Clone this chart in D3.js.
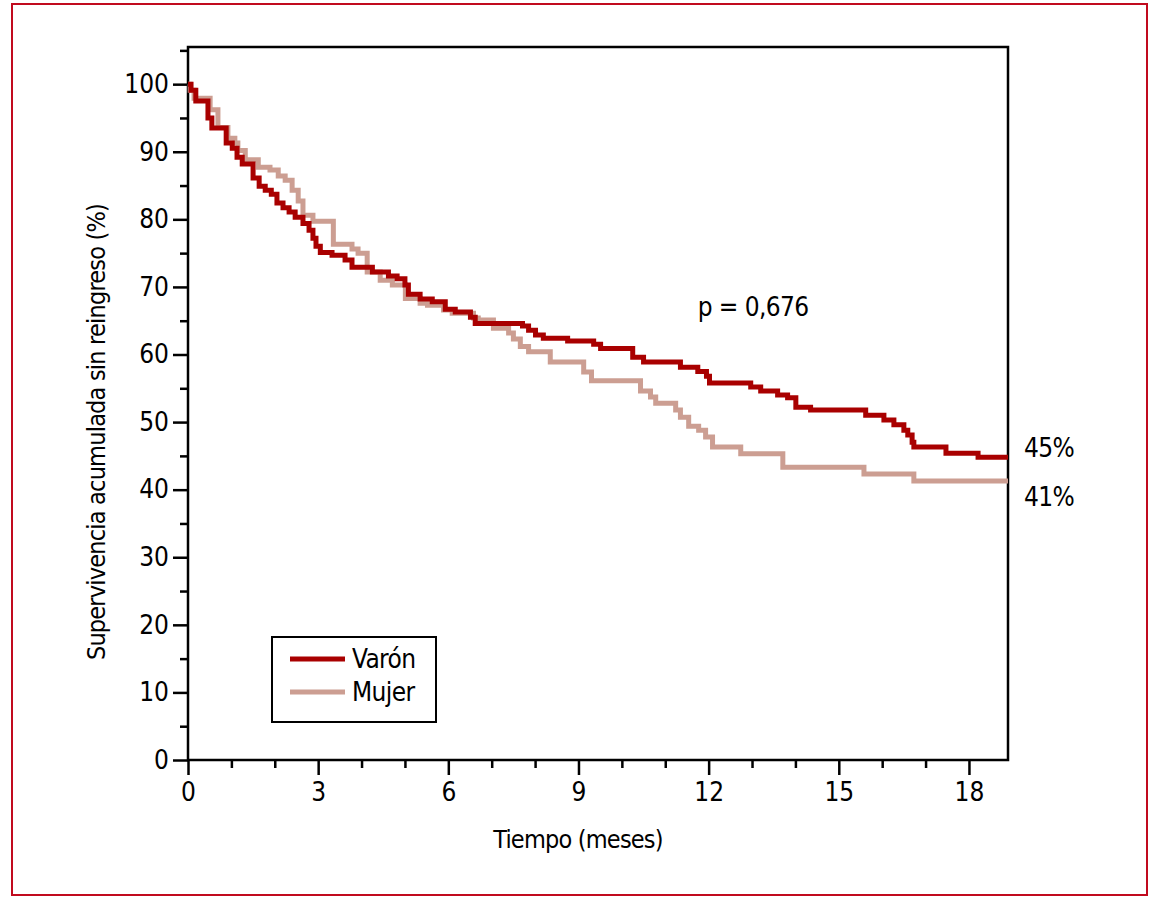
<!DOCTYPE html>
<html>
<head>
<meta charset="utf-8">
<script src="https://cdn.jsdelivr.net/npm/d3@7"></script>
<style>
  body { margin: 0; background: #fff; }
  svg text { font-family: "Liberation Sans Narrow", "DejaVu Sans Condensed", "Arial Narrow", sans-serif; fill: #000; }
  .axis path, .axis line { stroke: #000; stroke-width: 2.5px; }
  .axis text { font-size: 26px; }
  .title { font-size: 25px; letter-spacing: -0.8px; }
  .label { font-size: 26px; letter-spacing: -0.6px; }
</style>
</head>
<body>
<div id="chart"></div>
<script>
// Kaplan-Meier step points (time in months, survival %)
const varonT = [0, 0.07, 0.18, 0.46, 0.55, 0.88, 1.02, 1.13, 1.25, 1.50, 1.64, 1.78, 1.92, 2.05, 2.19, 2.33, 2.47, 2.65, 2.79, 2.88, 2.95, 3.05, 3.32, 3.62, 3.78, 4.25, 4.62, 4.82, 5.00, 5.08, 5.35, 5.63, 5.93, 6.16, 6.51, 6.62, 7.71, 7.85, 8.01, 8.19, 8.75, 9.35, 9.51, 10.25, 10.50, 11.35, 11.75, 11.95, 12.02, 12.97, 13.20, 13.59, 13.82, 14.01, 14.35, 15.62, 16.04, 16.27, 16.50, 16.59, 16.69, 16.73, 17.47, 18.21];
const varonS = [100, 99.1, 97.5, 95.0, 93.5, 91.3, 90.5, 89.2, 88.2, 86.1, 84.9, 84.3, 83.7, 82.4, 81.7, 81.1, 80.3, 79.4, 78.4, 77.2, 76.0, 75.1, 74.7, 74.0, 72.9, 72.2, 71.6, 71.2, 70.3, 68.9, 68.2, 67.8, 66.7, 66.3, 65.5, 64.6, 64.2, 63.6, 62.9, 62.4, 62.0, 61.5, 60.9, 59.6, 58.9, 58.1, 57.5, 56.8, 55.8, 55.2, 54.6, 54.0, 53.6, 52.2, 51.8, 51.0, 50.3, 49.6, 48.8, 48.1, 47.0, 46.3, 45.4, 44.8];

const mujerT = [0, 0.05, 0.14, 0.51, 0.69, 0.92, 1.08, 1.15, 1.32, 1.62, 1.89, 2.08, 2.24, 2.40, 2.54, 2.65, 2.88, 3.35, 3.78, 3.92, 4.13, 4.43, 4.71, 5.01, 5.35, 5.52, 5.89, 6.09, 6.58, 6.69, 7.04, 7.39, 7.50, 7.66, 7.85, 8.35, 9.12, 9.30, 10.43, 10.66, 10.78, 11.24, 11.35, 11.54, 11.77, 11.93, 12.09, 12.74, 13.71, 15.58, 16.73];
const mujerS = [100, 99.1, 97.9, 96.2, 93.6, 92.0, 91.3, 90.2, 88.8, 87.7, 87.3, 86.4, 85.8, 84.3, 82.7, 80.6, 79.7, 76.3, 75.6, 75.0, 72.2, 71.0, 70.3, 68.3, 67.6, 67.3, 66.6, 66.1, 65.4, 65.1, 63.9, 63.2, 62.3, 61.2, 60.4, 58.9, 57.4, 56.1, 54.6, 53.7, 52.8, 51.8, 50.7, 49.4, 48.8, 47.8, 46.3, 45.3, 43.3, 42.3, 41.3];

const followUpEnd = 18.9;
const seriesNames = ["Varón", "Mujer"];
const endLabels = ["45%", "41%"];
const pValue = "p = 0,676";
const xTicksMajor = [0, 3, 6, 9, 12, 15, 18];
const yTicksMajor = [0, 10, 20, 30, 40, 50, 60, 70, 80, 90, 100];

const colors = ["#a90000", "#cc9e92"];

const width = 1159, height = 899;
const margin = {top: 47, right: 151, bottom: 139, left: 188};
const innerW = width - margin.left - margin.right,
    innerH = height - margin.top - margin.bottom;

const x = d3.scaleLinear().domain([0, followUpEnd]).range([0, innerW]);
const y = d3.scaleLinear().domain([0, 105.5]).range([innerH, 0]);

const svg = d3.select("#chart").append("svg")
    .attr("width", width)
    .attr("height", height);

// outer red frame
svg.append("rect")
    .attr("x", 12).attr("y", 4)
    .attr("width", 1135).attr("height", 891)
    .attr("fill", "none")
    .attr("stroke", "#c10a1e")
    .attr("stroke-width", 2);

const g = svg.append("g")
    .attr("transform", `translate(${margin.left},${margin.top})`);

// plot frame
g.append("rect")
    .attr("width", innerW).attr("height", innerH)
    .attr("fill", "none").attr("stroke", "#000").attr("stroke-width", 2.5);

// minor ticks
g.append("g").attr("class", "axis")
    .call(d3.axisLeft(y).tickValues(d3.range(5, 106, 10)).tickSize(8).tickFormat(""))
    .call(s => s.select(".domain").remove());
g.append("g").attr("class", "axis")
    .attr("transform", `translate(0,${innerH})`)
    .call(d3.axisBottom(x).tickValues(d3.range(1, 19).filter(d => d % 3)).tickSize(8).tickFormat(""))
    .call(s => s.select(".domain").remove());

// major ticks
g.append("g").attr("class", "axis")
    .call(d3.axisLeft(y).tickValues(yTicksMajor).tickSize(15).tickPadding(4))
    .call(s => s.select(".domain").remove());
g.append("g").attr("class", "axis")
    .attr("transform", `translate(0,${innerH})`)
    .call(d3.axisBottom(x).tickValues(xTicksMajor).tickSize(15).tickPadding(8))
    .call(s => s.select(".domain").remove());

// axis titles
g.append("text")
    .attr("class", "title")
    .attr("x", 578 - margin.left).attr("y", innerH + 88)
    .attr("text-anchor", "middle")
    .text("Tiempo (meses)");
g.append("text")
    .attr("class", "title")
    .attr("transform", `translate(-83,${432 - margin.top}) rotate(-90)`)
    .attr("text-anchor", "middle")
    .text("Supervivencia acumulada sin reingreso (%)");

// survival curves
const line = d3.line()
    .x(d => x(d[0]))
    .y(d => y(d[1]))
    .curve(d3.curveStepAfter);

const series = [
    varonT.map((t, i) => [t, varonS[i]]),
    mujerT.map((t, i) => [t, mujerS[i]])
];
series.forEach(s => s.push([followUpEnd, s[s.length - 1][1]]));

// draw Mujer first so Varón sits on top
[1, 0].forEach(i => {
    g.append("path")
        .datum(series[i])
        .attr("fill", "none")
        .attr("stroke", colors[i])
        .attr("stroke-width", 5)
        .attr("d", line);
});

// end labels
[45, 41].forEach((v, i) => {
    g.append("text")
        .attr("class", "label")
        .attr("x", innerW + 16)
        .attr("y", y(v) + (i ? 14 : -8))
        .attr("dy", "0.35em")
        .text(endLabels[i]);
});

// p value
g.append("text")
    .attr("class", "label")
    .attr("x", x(11.75)).attr("y", y(67.1))
    .attr("dy", "0.35em")
    .text(pValue);

// legend
const legend = g.append("g").attr("transform", `translate(${272 - margin.left},${637 - margin.top})`);
legend.append("rect")
    .attr("width", 164).attr("height", 85)
    .attr("fill", "#fff").attr("stroke", "#000").attr("stroke-width", 2);
seriesNames.forEach((name, i) => {
    const ly = 22 + i * 33;
    legend.append("line")
        .attr("x1", 18).attr("x2", 73)
        .attr("y1", ly).attr("y2", ly)
        .attr("stroke", colors[i]).attr("stroke-width", 5);
    legend.append("text")
        .attr("class", "label")
        .attr("x", 80).attr("y", ly)
        .attr("dy", "0.35em")
        .text(name);
});
</script>
</body>
</html>
